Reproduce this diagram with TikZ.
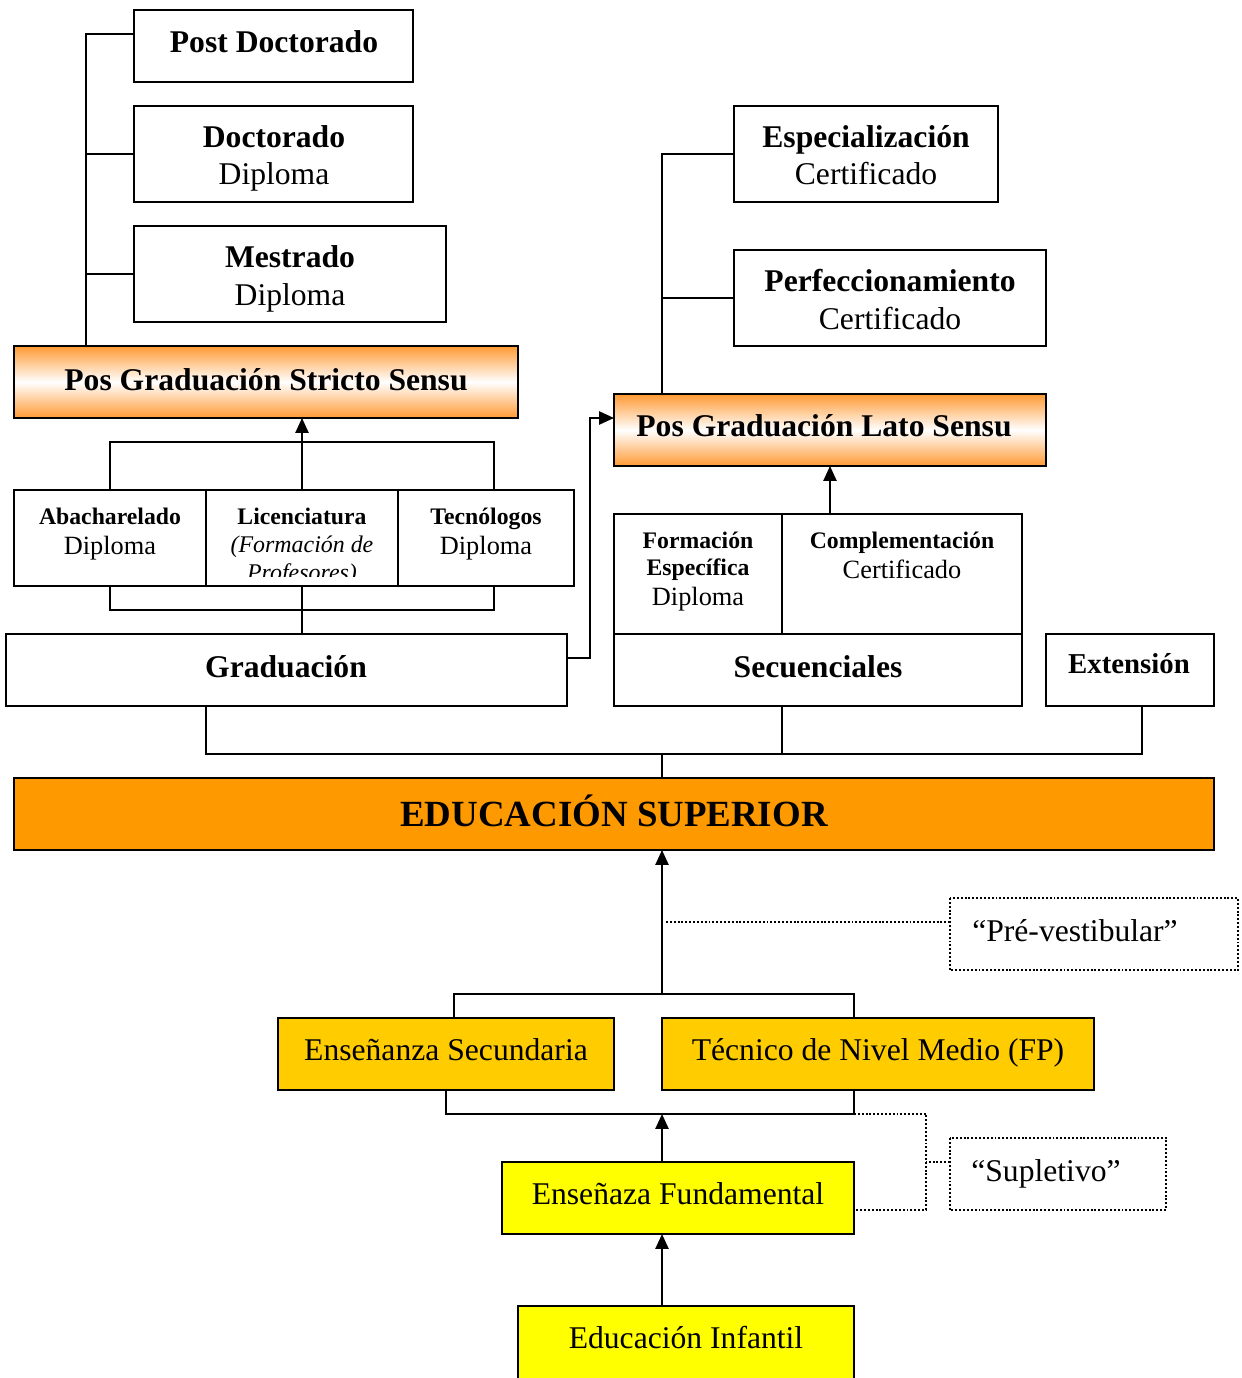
\documentclass[tikz,border=0pt]{standalone}
\usepackage{fontspec}
\setmainfont{Liberation Serif}
\usetikzlibrary{arrows.meta,calc}
\definecolor{edu}{HTML}{FF9900}
\definecolor{gold}{HTML}{FFCC00}
\definecolor{ylw}{HTML}{FFFF00}
\definecolor{grad}{HTML}{FF9933}
\newcommand\mybox[6]{\node[box,#6,minimum width={(#4-#2)*0.02cm},minimum height={(#5-#3)*0.02cm}] (#1) at ({(#2+#4)/2},{(#3+#5)/2}) {};}
\begin{document}
\begin{tikzpicture}[x=0.02cm,y=-0.02cm,
  box/.style={draw,line width=1.1pt,inner sep=0pt,outer sep=0pt},
  ln/.style={line width=1.1pt},
  arr/.style={line width=1.1pt,-{Triangle[length=8.5pt,width=7.5pt]}},
  dot/.style={line width=1.1pt,dash pattern=on 1.1pt off 1.1pt},
  tb/.style={anchor=base,font=\fontsize{18}{20}\selectfont\bfseries,inner sep=0pt},
  tr/.style={anchor=base,font=\fontsize{18}{20}\selectfont,inner sep=0pt},
  sb/.style={anchor=base,font=\fontsize{13.5}{15}\selectfont\bfseries,inner sep=0pt},
  sr/.style={anchor=base,font=\fontsize{15}{17}\selectfont,inner sep=0pt},
  si/.style={anchor=base,font=\fontsize{13.6}{15}\selectfont\itshape,inner sep=0pt},
  gradfill/.style={top color=grad,bottom color=grad,middle color=white}]
\useasboundingbox (0,0) rectangle (1241,1378);
% boxes
\mybox{post}{134}{10}{413}{82}{}
\mybox{doc}{134}{106}{413}{202}{}
\mybox{mest}{134}{226}{446}{322}{}
\mybox{stricto}{14}{346}{518}{418}{gradfill}
\mybox{espec}{734}{106}{998}{202}{}
\mybox{perf}{734}{250}{1046}{346}{}
\mybox{lato}{614}{394}{1046}{466}{gradfill}
\mybox{abach}{14}{490}{206}{586}{}
\mybox{lic}{206}{490}{398}{586}{}
\mybox{tecno}{398}{490}{574}{586}{}
\mybox{form}{614}{514}{782}{634}{}
\mybox{compl}{782}{514}{1022}{634}{}
\mybox{graduac}{6}{634}{567}{706}{}
\mybox{secu}{614}{634}{1022}{706}{}
\mybox{ext}{1046}{634}{1214}{706}{}
\mybox{edus}{14}{778}{1214}{850}{fill=edu}
\mybox{pre}{950}{898}{1238}{970}{draw=none}
\draw[dot] (pre.north west) rectangle (pre.south east);
\mybox{secund}{278}{1018}{614}{1090}{fill=gold}
\mybox{tecn}{662}{1018}{1094}{1090}{fill=gold}
\mybox{fund}{502}{1162}{854}{1234}{fill=ylw}
\mybox{supl}{950}{1138}{1166}{1210}{draw=none}
\draw[dot] (supl.north west) rectangle (supl.south east);
\mybox{inf}{518}{1306}{854}{1382}{fill=ylw}
% texts
\node[tb] (tpost) at (274,53) {Post Doctorado};
\node[tb] (tdoc) at (274,148) {Doctorado};
\node[tr] (tdoc2) at (274,185) {Diploma};
\node[tb] (tmest) at (290,268) {Mestrado};
\node[tr] (tmest2) at (290,305) {Diploma};
\node[tb] (tstr) at (266,390) {Pos Graduación Stricto Sensu};
\node[tb] (tesp) at (866,148) {Especialización};
\node[tr] (tesp2) at (866,185) {Certificado};
\node[tb] (tperf) at (890,292) {Perfeccionamiento};
\node[tr] (tperf2) at (890,329) {Certificado};
\node[tb] (tlato) at (824,436) {Pos Graduación Lato Sensu};
\node[sb] (tabach) at (110,524) {Abacharelado};
\node[sr] (tabach2) at (110,554) {Diploma};
\node[sb] (tlic) at (302,524) {Licenciatura};
\begin{scope}
\clip (206,490) rectangle (398,576);
\node[si] (tlic2) at (302,552) {(Formación de};
\node[si] (tlic3) at (302,580) {Profesores)};
\end{scope}
\node[sb] (ttec) at (486,524) {Tecnólogos};
\node[sr] (ttec2) at (486,554) {Diploma};
\node[sb] (tform) at (698,548) {Formación};
\node[sb] (tform2) at (698,575) {Específica};
\node[sr] (tform3) at (698,605) {Diploma};
\node[sb] (tcompl) at (902,548) {Complementación};
\node[sr] (tcompl2) at (902,578) {Certificado};
\node[tb] (tgrad) at (286,677) {Graduación};
\node[tb] (tsecu) at (818,677) {Secuenciales};
\node[tb,font=\fontsize{16.4}{18}\selectfont\bfseries] (text) at (1129,673) {Extensión};
\node[anchor=base,inner sep=0pt,font=\fontsize{21}{24}\selectfont\bfseries] (tedu) at (614,826) {EDUCACIÓN SUPERIOR};
\node[tr] (tpre) at (1075,941) {“Pré-vestibular”};
\node[tr] (tsec) at (446,1060) {Enseñanza Secundaria};
\node[tr] (ttecn) at (878,1060) {Técnico de Nivel Medio (FP)};
\node[tr] (tfund) at (678,1204) {Enseñaza Fundamental};
\node[tr] (tsupl) at (1046,1181) {“Supletivo”};
\node[tr] (tinf) at (686,1348) {Educación Infantil};
% connectors: stricto spine
\coordinate (sp) at (86,0);
\draw[ln] ([yshift=.24cm]post.west) -| (sp |- stricto.north);
\draw[ln] (doc.west) -- (doc.west -| sp);
\draw[ln] (mest.west) -- (mest.west -| sp);
% lato spine
\coordinate (ls) at (662,0);
\draw[ln] (espec.west) -| (ls |- lato.north);
\draw[ln] (perf.west) -- (perf.west -| ls);
% graduation brackets
\coordinate (gbt) at (494,442);
\draw[ln] (abach.north) |- (gbt) -- (gbt |- tecno.north);
\draw[arr] (lic.north) -- (stricto.south -| lic.north);
\coordinate (gbb) at (494,610);
\draw[ln] (abach.south) |- (gbb) -- (gbb |- tecno.south);
\draw[ln] (lic.south) -- (lic.south |- graduac.north);
\draw[arr] ([yshift=.24cm]graduac.east) -- ++(23,0) |- ([yshift=.24cm]lato.west);
\draw[arr] (lato.south |- compl.north) -- (lato.south);
% to educacion superior
\coordinate (eb) at (1142,754);
\draw[ln] ([xshift=-1.61cm]graduac.south) |- (eb) -- (eb |- ext.south);
\draw[ln] (form.south east |- secu.south) -- (form.south east |- eb);
\coordinate (em) at (662,754);
\draw[ln] (em) -- (em |- edus.north);
% lower part
\coordinate (ub) at (662,994);
\draw[arr] (ub) -- (ub |- edus.south);
\coordinate (prej) at (666,922);
\draw[dot] (prej) -- (pre.west |- prej);
\coordinate (ubl) at (454,994);
\coordinate (ubr) at (854,994);
\draw[ln] (ubl |- secund.north) -- (ubl) -- (ubr) -- (ubr |- tecn.north);
\coordinate (b2) at (854,1114);
\draw[ln] (secund.south) |- (b2) -- (b2 |- tecn.south);
\coordinate (b3) at (662,1114);
\draw[arr] (fund.north -| b3) -- (b3);
\coordinate (sj) at (926,1114);
\draw[dot] (b2) -- (sj) |- ([yshift=-.24cm]fund.east);
\draw[dot] ([yshift=.24cm]supl.west) -- ([yshift=.24cm]supl.west -| sj);
\draw[arr] (inf.north -| b3) -- (b3 |- fund.south);
\end{tikzpicture}
\end{document}
